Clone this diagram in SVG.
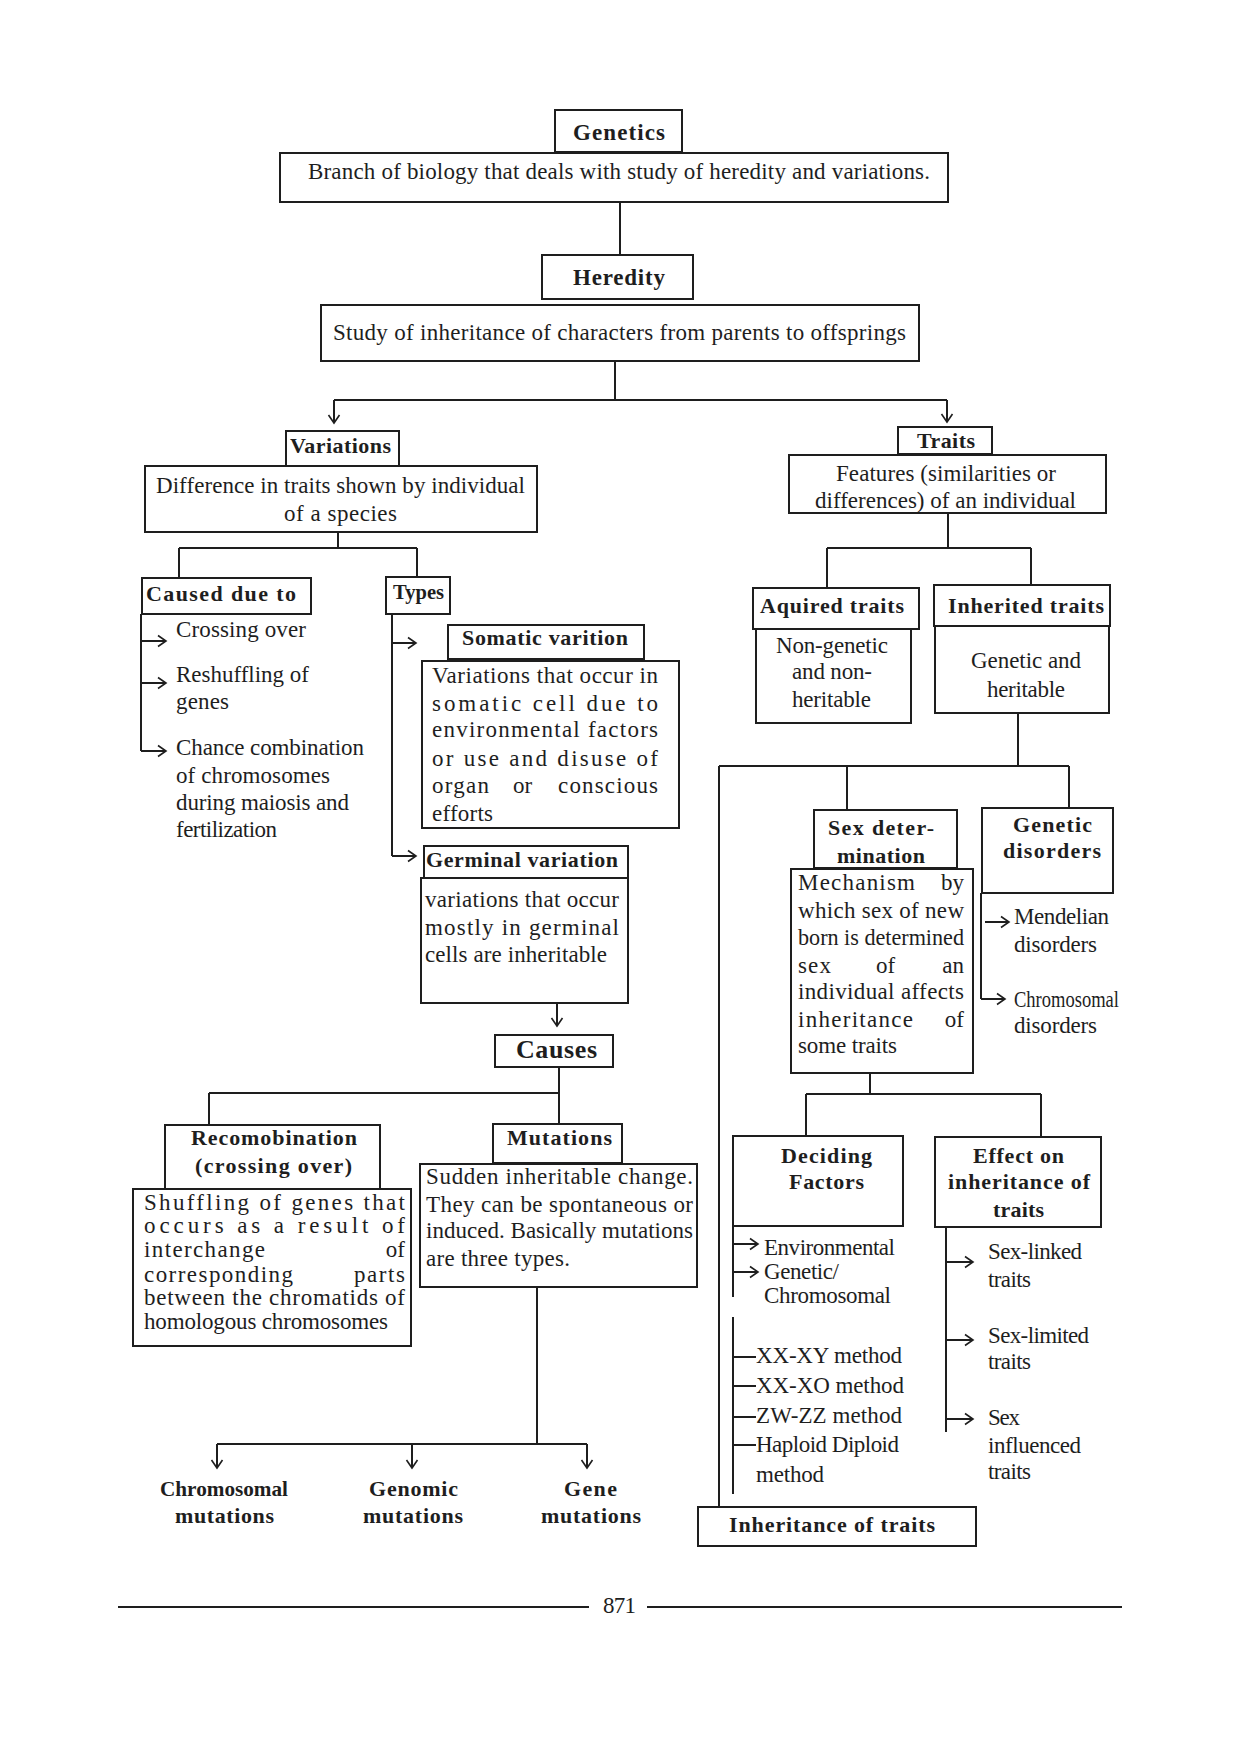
<svg xmlns="http://www.w3.org/2000/svg" width="1240" height="1755" viewBox="0 0 1240 1755">
<style>
.bx{fill:none;stroke:#1e1e1e;stroke-width:2}
.ln{fill:none;stroke:#1e1e1e;stroke-width:2}
.ar{fill:none;stroke:#1e1e1e;stroke-width:2;marker-end:url(#ah)}
text{font-family:"Liberation Serif","Times New Roman",serif;font-size:23px;fill:#1e1e1e}
.b{font-weight:bold;font-size:22px}
.bb{font-weight:bold;font-size:23px}
.cz{font-weight:bold;font-size:26px}
.e{text-anchor:end}
</style>
<defs>
<marker id="ah" viewBox="-10 -7 12 14" refX="0" refY="0" markerWidth="12" markerHeight="14" markerUnits="userSpaceOnUse" orient="auto">
<path d="M-8,-5.5 L0,0 L-8,5.5" fill="none" stroke="#1e1e1e" stroke-width="1.6"/>
</marker>
</defs>
<rect width="1240" height="1755" fill="#ffffff"/>

<g id="connectors">
<path class="ln" d="M620,202 V255"/>
<path class="ln" d="M615,361 V400 M334,400 H947"/>
<path class="ar" d="M334,400 V423"/>
<path class="ar" d="M947,400 V422"/>
<path class="ln" d="M338,532 V548 M179,548 H417 M179,548 V578 M417,548 V577"/>
<path class="ln" d="M141,614 V751"/>
<path class="ar" d="M141,641 H166"/>
<path class="ar" d="M141,683 H166"/>
<path class="ar" d="M141,751 H166"/>
<path class="ln" d="M392,614 V856"/>
<path class="ar" d="M392,643 H416"/>
<path class="ar" d="M392,856 H416"/>
<path class="ar" d="M557,1003 V1026"/>
<path class="ln" d="M559,1067 V1124 M209,1093 H559 M209,1093 V1125"/>
<path class="ln" d="M537,1287 V1444 M217,1444 H587"/>
<path class="ar" d="M217,1444 V1468"/>
<path class="ar" d="M412,1444 V1468"/>
<path class="ar" d="M587,1444 V1468"/>
<path class="ln" d="M948,513 V548 M827,548 H1031 M827,548 V588 M1031,548 V585"/>
<path class="ln" d="M1018,713 V766 M719,766 H1069 M847,766 V810 M1069,766 V808 M719,766 V1507"/>
<path class="ln" d="M981,893 V999"/>
<path class="ar" d="M981,999 H1005"/>
<path class="ar" d="M985,922 H1009"/>
<path class="ln" d="M870,1073 V1094 M806,1094 H1041 M806,1094 V1136 M1041,1094 V1137"/>
<path class="ln" d="M733,1226 V1297"/>
<path class="ar" d="M733,1244 H758"/>
<path class="ar" d="M733,1272 H758"/>
<path class="ln" d="M733,1317 V1494 M733,1357 H756 M733,1386 H756 M733,1417 H756 M733,1445 H756"/>
<path class="ln" d="M946,1227 V1432"/>
<path class="ar" d="M946,1262 H973"/>
<path class="ar" d="M946,1340 H973"/>
<path class="ar" d="M946,1419 H973"/>
</g>

<g id="genetics">
<rect class="bx" x="555" y="110" width="127" height="42"/>
<text class="bb" x="573" y="140" textLength="92" lengthAdjust="spacing">Genetics</text>
</g>
<g id="genetics-def">
<rect class="bx" x="280" y="153" width="668" height="49"/>
<text x="308" y="179" textLength="622" lengthAdjust="spacing">Branch of biology that deals with study of heredity and variations.</text>
</g>
<g id="heredity">
<rect class="bx" x="542" y="255" width="151" height="44"/>
<text class="bb" x="573" y="285" textLength="92" lengthAdjust="spacing">Heredity</text>
</g>
<g id="heredity-def">
<rect class="bx" x="321" y="305" width="598" height="56"/>
<text x="333" y="340" textLength="573" lengthAdjust="spacing">Study of inheritance of characters from parents to offsprings</text>
</g>
<g id="variations">
<rect class="bx" x="286" y="431" width="113" height="35"/>
<text class="b" x="290" y="453" textLength="101" lengthAdjust="spacing">Variations</text>
</g>
<g id="variations-def">
<rect class="bx" x="145" y="466" width="392" height="66"/>
<text x="156" y="493" textLength="369" lengthAdjust="spacing">Difference in traits shown by individual</text>
<text x="284" y="521" textLength="113" lengthAdjust="spacing">of a species</text>
</g>
<g id="traits">
<rect class="bx" x="898" y="427" width="94" height="27"/>
<text class="b" x="917" y="448" textLength="58" lengthAdjust="spacing">Traits</text>
</g>
<g id="traits-def">
<rect class="bx" x="789" y="455" width="317" height="58"/>
<text x="836" y="481" textLength="220" lengthAdjust="spacing">Features (similarities or</text>
<text x="815" y="508" textLength="261" lengthAdjust="spacing">differences) of an individual</text>
</g>
<g id="caused-due-to">
<rect class="bx" x="142" y="578" width="169" height="36"/>
<text class="b" x="146" y="601" textLength="150" lengthAdjust="spacing">Caused due to</text>
<text x="176" y="637" textLength="130" lengthAdjust="spacing">Crossing over</text>
<text x="176" y="682" textLength="133" lengthAdjust="spacing">Reshuffling of</text>
<text x="176" y="709" textLength="53" lengthAdjust="spacing">genes</text>
<text x="176" y="755" textLength="188" lengthAdjust="spacing">Chance combination</text>
<text x="176" y="783" textLength="154" lengthAdjust="spacing">of chromosomes</text>
<text x="176" y="810" textLength="173" lengthAdjust="spacing">during maiosis and</text>
<text x="176" y="837" textLength="101" lengthAdjust="spacing">fertilization</text>
</g>
<g id="types">
<rect class="bx" x="386" y="577" width="64" height="37"/>
<text class="b" x="393" y="599" textLength="51" lengthAdjust="spacingAndGlyphs">Types</text>
</g>
<g id="somatic">
<rect class="bx" x="448" y="625" width="196" height="34"/>
<text class="b" x="462" y="645" textLength="166" lengthAdjust="spacing">Somatic varition</text>
<rect class="bx" x="422" y="661" width="257" height="167"/>
<text x="432" y="683" textLength="226" lengthAdjust="spacing">Variations that occur in</text>
<text x="432" y="711" textLength="226" lengthAdjust="spacing">somatic cell due to</text>
<text x="432" y="737" textLength="226" lengthAdjust="spacing">environmental factors</text>
<text x="432" y="766" textLength="226" lengthAdjust="spacing">or use and disuse of</text>
<text x="432" y="793" textLength="57" lengthAdjust="spacing">organ</text>
<text x="513" y="793">or</text>
<text class="e" x="658" y="793" textLength="100" lengthAdjust="spacing">conscious</text>
<text x="432" y="821" textLength="61" lengthAdjust="spacing">efforts</text>
</g>
<g id="germinal">
<rect class="bx" x="424" y="846" width="204" height="32"/>
<text class="b" x="426" y="867" textLength="192" lengthAdjust="spacing">Germinal variation</text>
<rect class="bx" x="421" y="878" width="207" height="125"/>
<text x="425" y="907" textLength="194" lengthAdjust="spacing">variations that occur</text>
<text x="425" y="935" textLength="194" lengthAdjust="spacing">mostly in germinal</text>
<text x="425" y="962" textLength="182" lengthAdjust="spacing">cells are inheritable</text>
</g>
<g id="causes">
<rect class="bx" x="495" y="1035" width="118" height="32"/>
<text class="cz" x="516" y="1058" textLength="81" lengthAdjust="spacing">Causes</text>
</g>
<g id="recombination">
<rect class="bx" x="165" y="1125" width="215" height="64"/>
<text class="b" x="191" y="1145" textLength="166" lengthAdjust="spacing">Recomobination</text>
<text class="b" x="195" y="1173" textLength="157" lengthAdjust="spacing">(crossing over)</text>
<rect class="bx" x="133" y="1189" width="278" height="157"/>
<text x="144" y="1210" textLength="261" lengthAdjust="spacing">Shuffling of genes that</text>
<text x="144" y="1233" textLength="261" lengthAdjust="spacing">occurs as a result of</text>
<text x="144" y="1257" textLength="121" lengthAdjust="spacing">interchange</text>
<text class="e" x="405" y="1257">of</text>
<text x="144" y="1282" textLength="149" lengthAdjust="spacing">corresponding</text>
<text class="e" x="405" y="1282" textLength="51" lengthAdjust="spacing">parts</text>
<text x="144" y="1305" textLength="261" lengthAdjust="spacing">between the chromatids of</text>
<text x="144" y="1329" textLength="244" lengthAdjust="spacing">homologous chromosomes</text>
</g>
<g id="mutations">
<rect class="bx" x="493" y="1124" width="129" height="39"/>
<text class="b" x="507" y="1145" textLength="105" lengthAdjust="spacing">Mutations</text>
<rect class="bx" x="420" y="1164" width="277" height="123"/>
<text x="426" y="1184" textLength="267" lengthAdjust="spacing">Sudden inheritable change.</text>
<text x="426" y="1212" textLength="267" lengthAdjust="spacing">They can be spontaneous or</text>
<text x="426" y="1238" textLength="267" lengthAdjust="spacing">induced. Basically mutations</text>
<text x="426" y="1266" textLength="144" lengthAdjust="spacing">are three types.</text>
</g>
<g id="chromosomal-mutations">
<text class="b" x="160" y="1496" textLength="128" lengthAdjust="spacingAndGlyphs">Chromosomal</text>
<text class="b" x="175" y="1523" textLength="99" lengthAdjust="spacing">mutations</text>
</g>
<g id="genomic-mutations">
<text class="b" x="369" y="1496" textLength="89" lengthAdjust="spacing">Genomic</text>
<text class="b" x="363" y="1523" textLength="100" lengthAdjust="spacing">mutations</text>
</g>
<g id="gene-mutations">
<text class="b" x="564" y="1496" textLength="53" lengthAdjust="spacing">Gene</text>
<text class="b" x="541" y="1523" textLength="100" lengthAdjust="spacing">mutations</text>
</g>
<g id="aquired-traits">
<rect class="bx" x="753" y="588" width="166" height="41"/>
<text class="b" x="760" y="613" textLength="144" lengthAdjust="spacing">Aquired traits</text>
<rect class="bx" x="756" y="629" width="155" height="94"/>
<text x="776" y="653" textLength="112" lengthAdjust="spacing">Non-genetic</text>
<text x="792" y="679" textLength="80" lengthAdjust="spacing">and non-</text>
<text x="792" y="707" textLength="79" lengthAdjust="spacing">heritable</text>
</g>
<g id="inherited-traits">
<rect class="bx" x="934" y="585" width="176" height="41"/>
<text class="b" x="948" y="613" textLength="156" lengthAdjust="spacing">Inherited traits</text>
<rect class="bx" x="935" y="626" width="174" height="87"/>
<text x="971" y="668" textLength="110" lengthAdjust="spacing">Genetic and</text>
<text x="987" y="697" textLength="78" lengthAdjust="spacing">heritable</text>
</g>
<g id="sex-determination">
<rect class="bx" x="814" y="810" width="143" height="58"/>
<text class="b" x="828" y="835" textLength="106" lengthAdjust="spacing">Sex deter-</text>
<text class="b" x="837" y="863" textLength="88" lengthAdjust="spacing">mination</text>
<rect class="bx" x="791" y="869" width="182" height="204"/>
<text x="798" y="890" textLength="117" lengthAdjust="spacing">Mechanism</text>
<text class="e" x="964" y="890">by</text>
<text x="798" y="918" textLength="166" lengthAdjust="spacing">which sex of new</text>
<text x="798" y="945" textLength="166" lengthAdjust="spacingAndGlyphs">born is determined</text>
<text x="798" y="973" textLength="33" lengthAdjust="spacing">sex</text>
<text x="876" y="973">of</text>
<text class="e" x="964" y="973">an</text>
<text x="798" y="999" textLength="166" lengthAdjust="spacing">individual affects</text>
<text x="798" y="1027" textLength="115" lengthAdjust="spacing">inheritance</text>
<text class="e" x="964" y="1027">of</text>
<text x="798" y="1053" textLength="99" lengthAdjust="spacing">some traits</text>
</g>
<g id="genetic-disorders">
<rect class="bx" x="982" y="808" width="131" height="85"/>
<text class="b" x="1013" y="832" textLength="79" lengthAdjust="spacing">Genetic</text>
<text class="b" x="1003" y="858" textLength="98" lengthAdjust="spacing">disorders</text>
<text x="1014" y="924" textLength="95" lengthAdjust="spacing">Mendelian</text>
<text x="1014" y="952" textLength="83" lengthAdjust="spacing">disorders</text>
<text x="1014" y="1007" textLength="105" lengthAdjust="spacingAndGlyphs">Chromosomal</text>
<text x="1014" y="1033" textLength="83" lengthAdjust="spacing">disorders</text>
</g>
<g id="deciding-factors">
<rect class="bx" x="733" y="1136" width="170" height="90"/>
<text class="b" x="781" y="1163" textLength="91" lengthAdjust="spacing">Deciding</text>
<text class="b" x="789" y="1189" textLength="75" lengthAdjust="spacing">Factors</text>
<text x="764" y="1255" textLength="131" lengthAdjust="spacing">Environmental</text>
<text x="764" y="1279" textLength="75" lengthAdjust="spacing">Genetic/</text>
<text x="764" y="1303" textLength="127" lengthAdjust="spacing">Chromosomal</text>
</g>
<g id="methods">
<text x="756" y="1363" textLength="146" lengthAdjust="spacing">XX-XY method</text>
<text x="756" y="1393" textLength="148" lengthAdjust="spacing">XX-XO method</text>
<text x="756" y="1423" textLength="146" lengthAdjust="spacing">ZW-ZZ method</text>
<text x="756" y="1452" textLength="143" lengthAdjust="spacing">Haploid Diploid</text>
<text x="756" y="1482" textLength="68" lengthAdjust="spacing">method</text>
</g>
<g id="effect-on-inheritance">
<rect class="bx" x="935" y="1137" width="166" height="90"/>
<text class="b" x="973" y="1163" textLength="91" lengthAdjust="spacing">Effect on</text>
<text class="b" x="948" y="1189" textLength="142" lengthAdjust="spacing">inheritance of</text>
<text class="b" x="993" y="1217" textLength="51" lengthAdjust="spacing">traits</text>
<text x="988" y="1259" textLength="94" lengthAdjust="spacing">Sex-linked</text>
<text x="988" y="1287" textLength="43" lengthAdjust="spacing">traits</text>
<text x="988" y="1343" textLength="101" lengthAdjust="spacing">Sex-limited</text>
<text x="988" y="1369" textLength="43" lengthAdjust="spacing">traits</text>
<text x="988" y="1425" textLength="32" lengthAdjust="spacing">Sex</text>
<text x="988" y="1453" textLength="93" lengthAdjust="spacing">influenced</text>
<text x="988" y="1479" textLength="43" lengthAdjust="spacing">traits</text>
</g>
<g id="inheritance-of-traits">
<rect class="bx" x="698" y="1507" width="278" height="39"/>
<text class="b" x="729" y="1532" textLength="206" lengthAdjust="spacing">Inheritance of traits</text>
</g>
<g id="footer">
<path class="ln" d="M118,1607 H589 M647,1607 H1122"/>
<text x="603" y="1613" textLength="33" lengthAdjust="spacing">871</text>
</g>
</svg>
